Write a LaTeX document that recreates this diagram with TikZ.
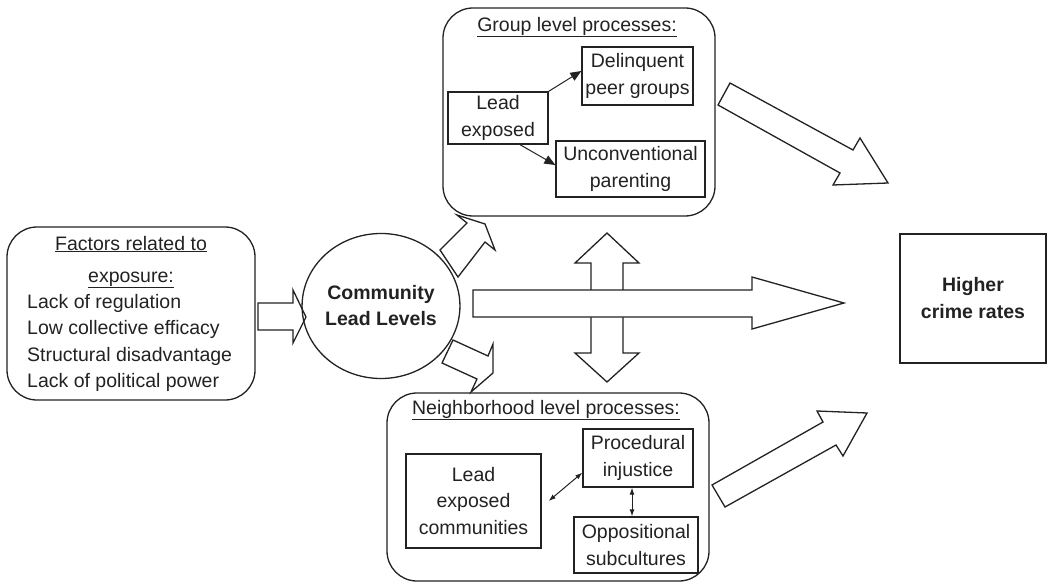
\documentclass[tikz,border=0pt]{standalone}
\usepackage{fontspec}
\setmainfont{Liberation Sans}
\usetikzlibrary{shapes.geometric,arrows.meta,calc}
\definecolor{ink}{HTML}{222222}
\begin{document}
\begin{tikzpicture}[x=1pt,y=-1pt,
  txt/.style={font=\fontsize{19.5}{26.5}\selectfont, text=ink},
  box/.style={draw=ink, line width=1.3pt, inner sep=0pt, align=center, txt},
  rbox/.style={draw=ink, line width=1.3pt, rounded corners=30pt, inner sep=0pt},
  blk/.style={draw=ink, fill=white, line width=1.3pt, line join=miter},
  sarrow/.style={-{Triangle[length=11pt,width=9pt]}, draw=ink, line width=1pt},
  darrow/.style={{Latex[length=7pt,width=5pt]}-{Latex[length=7pt,width=5pt]}, draw=ink, line width=1pt}]
\useasboundingbox (0,0) rectangle (1048,588);

% block arrows
\draw[blk] (258,303) -- (293,303) -- (293,290) -- (306,317) -- (293,343) -- (293,330) -- (258,330) -- cycle;
\draw[blk] (440,250) -- (467,223) -- (457,215) -- (485,224) -- (495,250) -- (485,242) -- (458,277) -- cycle;
\draw[blk] (453,340) -- (488,356) -- (493,344) -- (493,373) -- (471,392) -- (477,379) -- (442,363) -- cycle;
\draw[blk] (607,233) -- (639,263) -- (623,263) -- (623,353) -- (639,353) -- (607,382) -- (575,353) -- (591,353) -- (591,263) -- (575,263) -- cycle;
\draw[blk] (473,290) -- (752,290) -- (752,277) -- (844,303) -- (752,329) -- (752,317) -- (473,317) -- cycle;
\draw[blk] (730,83) -- (853,150) -- (860,138) -- (888,183) -- (833,185) -- (840,173) -- (718,105) -- cycle;
\draw[blk] (712,485) -- (823,422) -- (817,411) -- (867,413) -- (843,456) -- (836,445) -- (725,507) -- cycle;

% factors box
\node[rbox, minimum width=248pt, minimum height=173pt] (factors) at (131,313.5) {};
\node[txt, align=center, font=\fontsize{19.5}{32}\selectfont, inner sep=0pt] (ftitle) at (131,262) {\underline{Factors related to}\\\underline{exposure:}};
\node[txt, align=left, anchor=west, inner sep=0pt] (flist) at (27,343) {Lack of regulation\\Low collective efficacy\\Structural disadvantage\\Lack of political power};

% circle
\node[draw=ink, line width=1.3pt, ellipse, minimum width=138pt, minimum height=145pt, inner sep=0pt, align=center, txt, font=\fontsize{19.5}{26}\selectfont\bfseries] (cll) at (381,306) {Community\\Lead Levels};

% group box
\node[rbox, minimum width=272pt, minimum height=208pt] (grp) at (579,112) {};
\node[txt, inner sep=0pt] (gtitle) at (577,27) {\underline{Group level processes:}};
\node[box, minimum width=100pt, minimum height=52pt] (lead) at (498,118) {Lead\\exposed};
\node[box, minimum width=111pt, minimum height=58pt] (delin) at (637.5,76) {Delinquent\\peer groups};
\node[box, minimum width=149pt, minimum height=56pt] (uncon) at (630.5,169) {Unconventional\\parenting};
\draw[sarrow] (lead.north east) -- ([yshift=5pt]delin.west);
\draw[sarrow] ([xshift=22pt]lead.south) -- ([yshift=4pt]uncon.west);

% neighborhood box
\node[rbox, minimum width=322pt, minimum height=188pt] (nbh) at (548,487) {};
\node[txt, inner sep=0pt] (ntitle) at (546,410) {\underline{Neighborhood level processes:}};
\node[box, minimum width=135pt, minimum height=94pt] (lec) at (473.5,501) {Lead\\exposed\\communities};
\node[box, minimum width=110pt, minimum height=58pt] (proc) at (638,458) {Procedural\\injustice};
\node[box, minimum width=124pt, minimum height=56pt] (opp) at (636,545) {Oppositional\\subcultures};
\draw[darrow] ([xshift=7pt]lec.east) -- ([yshift=15pt]proc.south west);
\draw[darrow] ([xshift=-4pt]opp.north |- proc.south) -- ([xshift=-4pt]opp.north);

% outcome
\node[box, minimum width=146pt, minimum height=129pt, font=\fontsize{19.5}{27}\selectfont\bfseries] (crime) at (973,298.5) {Higher\\crime rates};
\end{tikzpicture}
\end{document}
